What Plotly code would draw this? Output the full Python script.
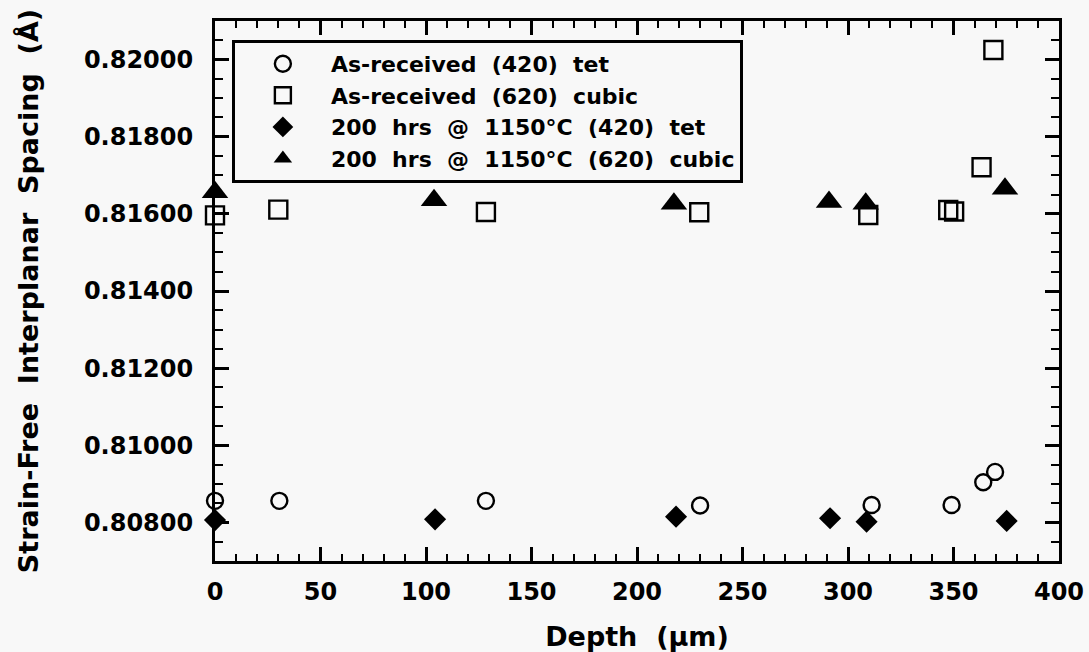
import plotly.graph_objects as go

# Depth (um) and strain-free interplanar spacing (Angstrom) for each data set
depth_ar_420 = [0, 30.5, 128.4, 229.9, 311.2, 349.1, 364.1, 369.7]
d_ar_420 = [0.80856, 0.80856, 0.80856, 0.80844, 0.80845, 0.80845, 0.80904, 0.80931]

depth_ar_620 = [0, 30, 128.4, 229.5, 309.6, 347.5, 350.3, 363.3, 368.9]
d_ar_620 = [0.81596, 0.81611, 0.81605, 0.81604, 0.81597, 0.81610, 0.81606, 0.81721, 0.82025]

depth_ht_420 = [0, 104.3, 218.5, 291.5, 308.8, 375.2]
d_ht_420 = [0.80806, 0.80808, 0.80815, 0.80811, 0.80802, 0.80804]

depth_ht_620 = [0, 103.8, 217.5, 291.0, 308.4, 374.4]
d_ht_620 = [0.81656, 0.81635, 0.81626, 0.81631, 0.81626, 0.81665]

series_names = [
    "As-received\u00a0\u00a0(420)\u00a0\u00a0tet",
    "As-received\u00a0\u00a0(620)\u00a0\u00a0cubic",
    "200\u00a0\u00a0hrs\u00a0\u00a0@\u00a0\u00a01150°C\u00a0\u00a0(420)\u00a0\u00a0tet",
    "200\u00a0\u00a0hrs\u00a0\u00a0@\u00a0\u00a01150°C\u00a0\u00a0(620)\u00a0\u00a0cubic",
]

x_tick_vals = [0, 50, 100, 150, 200, 250, 300, 350, 400]
y_tick_vals = [0.808, 0.810, 0.812, 0.814, 0.816, 0.818, 0.820]

FONT = "DejaVu Sans"
BG = "#f8f8f8"

fig = go.Figure()
fig.add_trace(go.Scatter(
    x=depth_ar_420, y=d_ar_420, mode="markers", name=series_names[0], cliponaxis=False,
    marker=dict(symbol="circle-open", size=16, color="black", line=dict(width=2.4, color="black")),
))
fig.add_trace(go.Scatter(
    x=depth_ar_620, y=d_ar_620, mode="markers", name=series_names[1], cliponaxis=False,
    marker=dict(symbol="square-open", size=18, color="black", line=dict(width=2.4, color="black")),
))
fig.add_trace(go.Scatter(
    x=depth_ht_420, y=d_ht_420, mode="markers", name=series_names[2], cliponaxis=False,
    marker=dict(symbol="diamond", size=17, color="black", line=dict(width=0)),
))
fig.add_trace(go.Scatter(
    x=depth_ht_620, y=d_ht_620, mode="markers", name=series_names[3], cliponaxis=False,
    marker=dict(symbol="triangle-up", size=23, color="black", line=dict(width=0)),
))

axis_common = dict(
    showgrid=False, zeroline=False, automargin=False,
    showline=True, linecolor="black", linewidth=3, mirror="ticks",
    ticks="inside", ticklen=14, tickwidth=2.5, tickcolor="black",
    tickfont=dict(family=FONT, size=24, color="black", weight="bold"),
)

fig.update_xaxes(
    range=[0, 400], tickvals=x_tick_vals,
    minor=dict(dtick=10, ticks="inside", ticklen=7, tickwidth=2, tickcolor="black"),
    ticklabelstandoff=7,
    title=dict(text="Depth\u00a0\u00a0(µm)", font=dict(family=FONT, size=27, color="black", weight="bold"),
               standoff=24),
    **axis_common,
)
fig.update_yaxes(
    range=[0.807, 0.821], tickvals=y_tick_vals, tickformat=".5f",
    minor=dict(dtick=0.0005, tick0=0.807, ticks="inside", ticklen=8, tickwidth=2, tickcolor="black"),
    ticklabelstandoff=14,
    title=dict(text="Strain-Free\u00a0\u00a0Interplanar\u00a0\u00a0Spacing\u00a0\u00a0(Å)",
               font=dict(family=FONT, size=27, color="black", weight="bold"), standoff=38),
    **axis_common,
)

fig.update_layout(
    width=1089, height=652,
    margin=dict(l=215, r=30, t=21, b=91),
    paper_bgcolor=BG, plot_bgcolor=BG,
    showlegend=True,
    legend=dict(
        x=0.02, y=0.965, xanchor="left", yanchor="top",
        bgcolor=BG, bordercolor="black", borderwidth=3,
        font=dict(family=FONT, size=22, color="black", weight="bold"),
        itemwidth=86, tracegroupgap=0,
    ),
)

fig.write_html("out.html")
